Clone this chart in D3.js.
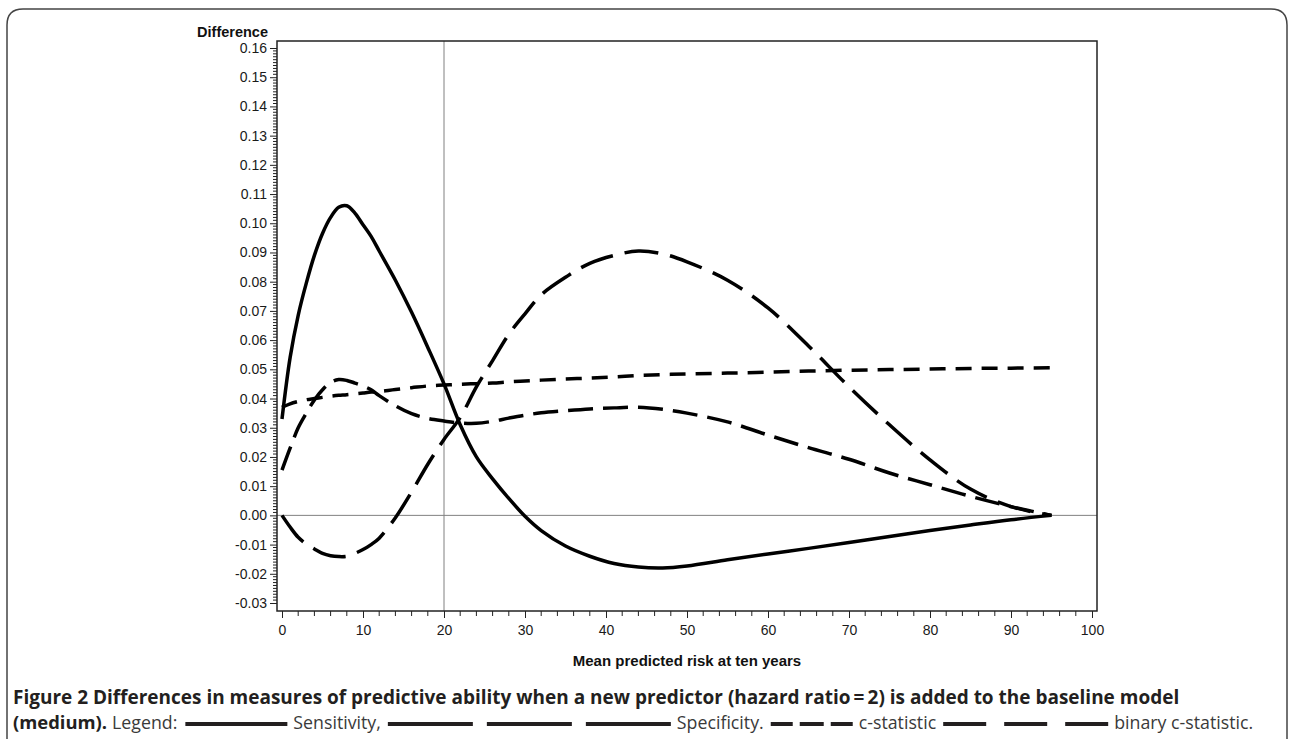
<!DOCTYPE html>
<html>
<head>
<meta charset="utf-8">
<script src="https://cdn.jsdelivr.net/npm/d3@7"></script>
<style>
  body { margin: 0; background: #fff; }
</style>
</head>
<body>
<script>
// x values (mean predicted risk at ten years, %)
const riskGrid = [0, 1, 2, 3, 4, 5, 6, 7, 8, 9, 10, 11, 12, 14, 16, 18, 20, 22, 24, 26, 28, 30,
  32, 35, 38, 41, 44, 47, 50, 55, 60, 65, 70, 75, 80, 85, 90, 95];

// differences
const sensitivity = [0.033, 0.054, 0.0685, 0.0795, 0.089, 0.0965, 0.102, 0.1055, 0.106, 0.1035, 0.0995, 0.0955, 0.0905,
  0.0805, 0.0695, 0.0575, 0.045, 0.031, 0.020, 0.0125, 0.0058, -0.0003,
  -0.0052, -0.0105, -0.014, -0.0165, -0.0177, -0.018, -0.0173, -0.0152, -0.0132, -0.0113, -0.0093,
  -0.0072, -0.0052, -0.0033, -0.0015, 0.0];
const specificity = [0.0, -0.004, -0.0075, -0.0098, -0.0115, -0.013, -0.0138, -0.0141, -0.014, -0.013, -0.0117, -0.010, -0.0078,
  -0.0008, 0.008, 0.0175, 0.026, 0.0335, 0.044, 0.053, 0.062, 0.069,
  0.0755, 0.0815, 0.0863, 0.089, 0.0905, 0.0895, 0.0868, 0.0805, 0.071, 0.058, 0.044,
  0.031, 0.019, 0.009, 0.003, 0.0];
const cStatistic = [0.037, 0.0382, 0.039, 0.0396, 0.040, 0.0404, 0.0408, 0.0411, 0.0413, 0.0416, 0.0419, 0.0422, 0.0424,
  0.0431, 0.0437, 0.0443, 0.0446, 0.0449, 0.0451, 0.0453, 0.0457, 0.046,
  0.0463, 0.0467, 0.047, 0.0474, 0.0479, 0.0482, 0.0484, 0.0487, 0.049, 0.0494, 0.0497,
  0.0499, 0.0501, 0.0503, 0.0504, 0.0505];
const binaryCStatistic = [0.0155, 0.023, 0.030, 0.035, 0.0395, 0.043, 0.0455, 0.0465, 0.0462, 0.0453, 0.0443, 0.043, 0.041,
  0.0375, 0.0348, 0.0332, 0.0323, 0.0316, 0.0315, 0.0322, 0.0333, 0.0343,
  0.0351, 0.0358, 0.0364, 0.0368, 0.037, 0.0363, 0.035, 0.032, 0.0275, 0.0232, 0.0192,
  0.0145, 0.0105, 0.0065, 0.003, 0.0];

const yTicks = d3.range(-0.03, 0.1601, 0.01).map(v => +v.toFixed(2));
const xTicks = [0, 10, 20, 30, 40, 50, 60, 70, 80, 90, 100];

const series = [
  { name: "Sensitivity", values: sensitivity, dash: null },
  { name: "Specificity", values: specificity, dash: "34,12" },
  { name: "c-statistic", values: cStatistic, dash: "16,10" },
  { name: "binary c-statistic", values: binaryCStatistic, dash: "25,10" }
];

const W = 1289, H = 739;
const frame = { left: 277, right: 1097, top: 41, bottom: 611 };
const ink = "#231f20";

const x = d3.scaleLinear().domain([0, 100]).range([282, 1092]);
const y = d3.scaleLinear().domain([-0.03, 0.16]).range([603, 48]);

const svg = d3.select("body").append("svg")
  .attr("width", W)
  .attr("height", H);

// outer box of the figure
svg.append("path")
  .attr("d", "M7,745 V25 Q7,9 23,9 H1271 Q1287,9 1287,25 V745")
  .attr("fill", "none")
  .attr("stroke", "#444")
  .attr("stroke-width", 1.5);

// reference lines
svg.append("line")
  .attr("x1", frame.left).attr("x2", frame.right)
  .attr("y1", y(0)).attr("y2", y(0))
  .attr("stroke", "#808080").attr("stroke-width", 1);
svg.append("line")
  .attr("x1", x(20)).attr("x2", x(20))
  .attr("y1", frame.top).attr("y2", frame.bottom)
  .attr("stroke", "#808080").attr("stroke-width", 1);

// plot frame
svg.append("rect")
  .attr("x", frame.left).attr("y", frame.top)
  .attr("width", frame.right - frame.left)
  .attr("height", frame.bottom - frame.top)
  .attr("fill", "none")
  .attr("stroke", "#222")
  .attr("stroke-width", 1.5);

// y axis
const fmt = d3.format(".2f");
const yAxis = svg.append("g")
  .attr("transform", "translate(" + frame.left + ",0)")
  .call(d3.axisLeft(y).tickValues(yTicks).tickFormat(d => fmt(d).replace("\u2212", "-")).tickSize(7).tickPadding(3));
yAxis.select(".domain").remove();
yAxis.selectAll("text")
  .attr("font-family", "Liberation Sans, Arial, sans-serif")
  .attr("font-size", 14)
  .attr("fill", "#1a1a1a");

svg.append("g")
  .selectAll("line")
  .data(d3.range(-30, 161).filter(d => d % 10 !== 0).map(d => d / 1000))
  .enter().append("line")
  .attr("x1", frame.left - 4).attr("x2", frame.left)
  .attr("y1", d => y(d)).attr("y2", d => y(d))
  .attr("stroke", "#222");

// x axis
const xAxis = svg.append("g")
  .attr("transform", "translate(0," + frame.bottom + ")")
  .call(d3.axisBottom(x).tickValues(xTicks).tickSize(7).tickPadding(7));
xAxis.select(".domain").remove();
xAxis.selectAll("text")
  .attr("font-family", "Liberation Sans, Arial, sans-serif")
  .attr("font-size", 14)
  .attr("fill", "#1a1a1a");

svg.append("g")
  .selectAll("line")
  .data(d3.range(0, 101, 2).filter(d => d % 10 !== 0))
  .enter().append("line")
  .attr("x1", d => x(d)).attr("x2", d => x(d))
  .attr("y1", frame.bottom).attr("y2", frame.bottom + 5)
  .attr("stroke", "#222");

svg.selectAll(".tick line").attr("stroke", "#222");

// axis titles
svg.append("text")
  .attr("x", 268).attr("y", 37)
  .attr("text-anchor", "end")
  .attr("font-family", "Liberation Sans, Arial, sans-serif")
  .attr("font-weight", "bold")
  .attr("font-size", 14.5)
  .attr("fill", "#111")
  .text("Difference");

svg.append("text")
  .attr("x", (frame.left + frame.right) / 2).attr("y", 666)
  .attr("text-anchor", "middle")
  .attr("font-family", "Liberation Sans, Arial, sans-serif")
  .attr("font-weight", "bold")
  .attr("font-size", 15)
  .attr("fill", "#111")
  .text("Mean predicted risk at ten years");

// curves
const line = d3.line()
  .x((d, i) => x(riskGrid[i]))
  .y(d => y(d))
  .curve(d3.curveCatmullRom.alpha(0.5));

svg.append("g")
  .selectAll("path")
  .data(series)
  .enter().append("path")
  .attr("d", d => line(d.values))
  .attr("fill", "none")
  .attr("stroke", "#000")
  .attr("stroke-width", 3.5)
  .attr("stroke-dasharray", d => d.dash);

// caption
const capFont = "Open Sans, Noto Sans, sans-serif";
const cap1 = svg.append("text")
  .attr("x", 13).attr("y", 704)
  .attr("font-family", capFont)
  .attr("font-weight", "bold")
  .attr("font-size", 17)
  .attr("fill", ink)
  .text("Figure 2 Differences in measures of predictive ability when a new predictor (hazard ratio\u2009=\u20092) is added to the baseline model");
const capSize = 17 * (1180 - 13) / cap1.node().getComputedTextLength();
cap1.attr("font-size", capSize);
const regSize = capSize * 0.935;

// second line: legend flows after "(medium). Legend:"
const legendItems = [
  { label: "Sensitivity,", dash: [102], gap: 0 },
  { label: "Specificity.", dash: [85, 85, 85], gap: 14 },
  { label: "c-statistic", dash: [22, 24, 22], gap: 7 },
  { label: "binary c-statistic.", dash: [43, 43, 43], gap: 18 }
];

let cx = 13;
const baseline2 = 729;
const t1 = svg.append("text")
  .attr("x", cx).attr("y", baseline2)
  .attr("font-family", capFont).attr("font-weight", "bold")
  .attr("font-size", capSize * 0.97).attr("fill", ink)
  .text("(medium).");
cx += t1.node().getComputedTextLength() + 5;
const t2 = svg.append("text")
  .attr("x", cx).attr("y", baseline2)
  .attr("font-family", capFont)
  .attr("font-size", regSize).attr("fill", "#3a3a3a")
  .text("Legend:");
cx += t2.node().getComputedTextLength() + 8;

legendItems.forEach(item => {
  item.dash.forEach((len, i) => {
    svg.append("line")
      .attr("x1", cx).attr("x2", cx + len)
      .attr("y1", baseline2 - 5).attr("y2", baseline2 - 5)
      .attr("stroke", ink)
      .attr("stroke-width", 4);
    cx += len + (i < item.dash.length - 1 ? item.gap : 0);
  });
  cx += 6;
  const t = svg.append("text")
    .attr("x", cx).attr("y", baseline2)
    .attr("font-family", capFont)
    .attr("font-size", regSize).attr("fill", "#3a3a3a")
    .text(item.label);
  cx += t.node().getComputedTextLength() + 7;
});
</script>
</body>
</html>
